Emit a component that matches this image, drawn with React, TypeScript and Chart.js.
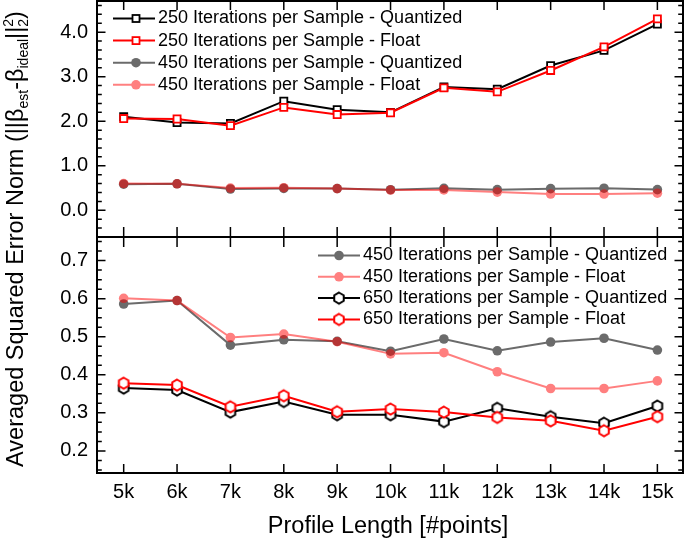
import React, { useEffect, useRef } from 'react';
import { Chart, registerables } from 'chart.js';
Chart.register(...registerables);

// ---------- data ----------
const PROFILE_K = [5, 6, 7, 8, 9, 10, 11, 12, 13, 14, 15];
const TOP_TICKS = [0, 1, 2, 3, 4];
const BOTTOM_TICKS = [0.2, 0.3, 0.4, 0.5, 0.6, 0.7];

const IT250_QUANT = [2.1, 1.97, 1.95, 2.45, 2.26, 2.2, 2.77, 2.72, 3.25, 3.59, 4.18];
const IT250_FLOAT = [2.06, 2.05, 1.9, 2.31, 2.15, 2.19, 2.75, 2.66, 3.14, 3.67, 4.3];
const IT450_QUANT = [0.586, 0.595, 0.478, 0.492, 0.488, 0.462, 0.494, 0.463, 0.486, 0.496, 0.465];
const IT450_FLOAT = [0.601, 0.595, 0.498, 0.507, 0.487, 0.455, 0.458, 0.408, 0.364, 0.364, 0.384];
const IT650_QUANT = [0.365, 0.36, 0.302, 0.33, 0.295, 0.295, 0.277, 0.312, 0.29, 0.273, 0.318];
const IT650_FLOAT = [0.378, 0.373, 0.316, 0.345, 0.303, 0.31, 0.302, 0.288, 0.279, 0.253, 0.29];

const LEGEND_TOP = [
  '250 Iterations per Sample - Quantized',
  '250 Iterations per Sample - Float',
  '450 Iterations per Sample - Quantized',
  '450 Iterations per Sample - Float',
];
const LEGEND_BOTTOM = [
  '450 Iterations per Sample - Quantized',
  '450 Iterations per Sample - Float',
  '650 Iterations per Sample - Quantized',
  '650 Iterations per Sample - Float',
];

const FONT = "'Liberation Sans', Arial, Helvetica, sans-serif";
const BLACK = '#000000';
const RED = '#ff0000';
const GRAY = '#6b6b6b';
const PINK = '#ff8080';

function makeHex(color: string): HTMLCanvasElement {
  const c = document.createElement('canvas');
  c.width = 16;
  c.height = 16;
  const g = c.getContext('2d')!;
  g.beginPath();
  for (let i = 0; i < 6; i++) {
    const a = -Math.PI / 2 + (i * Math.PI) / 3;
    const px = 8 + 5.5 * Math.cos(a);
    const py = 8 + 5.5 * Math.sin(a);
    if (i === 0) g.moveTo(px, py);
    else g.lineTo(px, py);
  }
  g.closePath();
  g.fillStyle = '#ffffff';
  g.fill();
  g.lineWidth = 2;
  g.strokeStyle = color;
  g.stroke();
  return c;
}

const pts = (vals: number[]) => PROFILE_K.map((k, i) => ({ x: k, y: vals[i] }));

export default function App() {
  const ref = useRef<HTMLCanvasElement>(null);

  useEffect(() => {
    const hexBlack = makeHex(BLACK);
    const hexRed = makeHex(RED);

    const groupAlpha = {
      id: 'groupAlpha',
      beforeDatasetDraw(chart: any, args: any) {
        const ds = chart.data.datasets[args.index];
        if (!ds.groupAlpha) return;
        const meta = args.meta;
        const off = document.createElement('canvas');
        off.width = chart.canvas.width;
        off.height = chart.canvas.height;
        const o = off.getContext('2d')!;
        const area = chart.chartArea;
        const ys = meta.yScale;
        o.save();
        o.beginPath();
        o.rect(area.left, ys.top, area.right - area.left, ys.bottom - ys.top);
        o.clip();
        meta.dataset.draw(o, area);
        meta.data.forEach((p: any) => p.draw(o, area));
        o.restore();
        const ctx = chart.ctx;
        ctx.save();
        ctx.globalAlpha = ds.groupAlpha;
        ctx.drawImage(off, 0, 0, chart.width, chart.height);
        ctx.restore();
        return false;
      },
    };

    const decor = {
      id: 'decor',
      afterDraw(chart: any) {
        const ctx = chart.ctx as CanvasRenderingContext2D;
        const xs = chart.scales.x;
        const yT = chart.scales.yTop;
        const yB = chart.scales.yBot;
        const L = chart.chartArea.left;
        const R = chart.chartArea.right;
        const T = yT.top;
        const M = yT.bottom;
        const B = yB.bottom;
        ctx.save();
        ctx.strokeStyle = '#000';
        // ticks
        ctx.lineWidth = 1.5;
        const hTick = (y: number, len: number) => {
          ctx.beginPath();
          ctx.moveTo(L, y);
          ctx.lineTo(L + len, y);
          ctx.moveTo(R, y);
          ctx.lineTo(R - len, y);
          ctx.stroke();
        };
        for (let k = -3; k <= 23; k++) {
          const v = k * 0.2;
          const y = yT.getPixelForValue(v);
          if (y < T + 1 || y > M - 1) continue;
          hTick(y, k % 5 === 0 ? 8.5 : 4.8);
        }
        for (let k = 5; k <= 31; k++) {
          const v = k * 0.025;
          const y = yB.getPixelForValue(v);
          if (y < M + 1 || y > B - 1) continue;
          hTick(y, k % 4 === 0 ? 8.5 : 4.8);
        }
        PROFILE_K.forEach((k) => {
          const x = xs.getPixelForValue(k);
          ctx.beginPath();
          ctx.moveTo(x, B);
          ctx.lineTo(x, B - 9);
          ctx.moveTo(x, T);
          ctx.lineTo(x, T + 9);
          ctx.moveTo(x, M - 10);
          ctx.lineTo(x, M + 10);
          ctx.stroke();
        });
        // frame
        ctx.lineWidth = 2;
        ctx.strokeRect(L, T, R - L, B - T);
        ctx.beginPath();
        ctx.moveTo(L, M);
        ctx.lineTo(R, M);
        ctx.stroke();

        // legends
        const drawMarker = (kind: string, color: string, x: number, y: number) => {
          if (kind === 'rect') {
            ctx.fillStyle = '#fff';
            ctx.fillRect(x - 3.5, y - 3.5, 7, 7);
            ctx.lineWidth = 1.8;
            ctx.strokeStyle = color;
            ctx.strokeRect(x - 3.5, y - 3.5, 7, 7);
          } else if (kind === 'circle') {
            ctx.fillStyle = color;
            ctx.beginPath();
            ctx.arc(x, y, 4.8, 0, Math.PI * 2);
            ctx.fill();
          } else {
            const img = color === RED ? hexRed : hexBlack;
            ctx.drawImage(img, x - 8, y - 8);
          }
        };
        const row = (x0: number, x1: number, mx: number, tx: number, y: number, color: string, kind: string, label: string) => {
          ctx.strokeStyle = color;
          ctx.lineWidth = 2;
          ctx.beginPath();
          ctx.moveTo(x0, y);
          ctx.lineTo(x1, y);
          ctx.stroke();
          drawMarker(kind, color, mx, y);
          ctx.fillStyle = '#000';
          ctx.font = `18px ${FONT}`;
          ctx.textBaseline = 'middle';
          ctx.textAlign = 'left';
          ctx.fillText(label, tx, y);
        };
        const topStyles: [string, string][] = [[BLACK, 'rect'], [RED, 'rect'], [GRAY, 'circle'], [PINK, 'circle']];
        LEGEND_TOP.forEach((lab, i) => {
          row(113, 155, 136, 158, 18.5 + i * 22.1, topStyles[i][0], topStyles[i][1], lab);
        });
        const botStyles: [string, string][] = [[GRAY, 'circle'], [PINK, 'circle'], [BLACK, 'hex'], [RED, 'hex']];
        LEGEND_BOTTOM.forEach((lab, i) => {
          row(318, 360, 339, 363, 255.5 + i * 21.3, botStyles[i][0], botStyles[i][1], lab);
        });

        // axis titles
        ctx.fillStyle = '#000';
        ctx.textAlign = 'center';
        ctx.textBaseline = 'middle';
        ctx.font = `23.5px ${FONT}`;
        ctx.fillText('Profile Length [#points]', (L + R) / 2 - 2, 527);

        const segs: { t: string; s: string }[] = [
          { t: 'Averaged Squared Error Norm (||β', s: 'n' },
          { t: 'est', s: 'sub' },
          { t: '-β', s: 'n' },
          { t: 'ideal', s: 'sub' },
          { t: '||', s: 'n' },
          { t: '2', s: 'subsup' },
          { t: ')', s: 'n' },
        ];
        const big = `23.5px ${FONT}`;
        const small = `14px ${FONT}`;
        let total = 0;
        segs.forEach((sg) => {
          ctx.font = sg.s === 'n' ? big : small;
          total += ctx.measureText(sg.t).width;
        });
        ctx.save();
        ctx.translate(23, 239);
        ctx.rotate(-Math.PI / 2);
        ctx.textAlign = 'left';
        ctx.textBaseline = 'alphabetic';
        let u = -total / 2;
        segs.forEach((sg) => {
          if (sg.s === 'n') {
            ctx.font = big;
            ctx.fillText(sg.t, u, 0);
          } else if (sg.s === 'sub') {
            ctx.font = small;
            ctx.fillText(sg.t, u, 5);
          } else {
            ctx.font = small;
            ctx.fillText(sg.t, u, 5);
            ctx.fillText(sg.t, u, -10);
          }
          u += ctx.measureText(sg.t).width;
        });
        ctx.restore();
        ctx.restore();
      },
    };

    const lineDs = (label: string, vals: number[], axis: string, color: string, kind: string, order: number, extra: any = {}) => {
      const base: any = {
        label,
        data: pts(vals),
        yAxisID: axis,
        borderColor: color,
        borderWidth: 2,
        order,
        pointBorderColor: color,
        tension: 0,
      };
      if (kind === 'rect') {
        Object.assign(base, { pointStyle: 'rect', pointRadius: 5, pointBorderWidth: 1.8, pointBackgroundColor: '#fff' });
      } else if (kind === 'circle') {
        Object.assign(base, { pointStyle: 'circle', pointRadius: 4.8, pointBorderWidth: 0, pointBackgroundColor: color });
      } else {
        Object.assign(base, { pointStyle: color === RED ? hexRed : hexBlack, pointRadius: 6 });
      }
      return Object.assign(base, extra);
    };

    const yCommon = (min: number, max: number, ticks: number[], weight: number) => ({
      type: 'linear',
      position: 'left',
      stack: 'panels',
      stackWeight: 1,
      weight,
      min,
      max,
      grid: { display: false, drawTicks: false, tickLength: 0 },
      border: { display: false },
      afterBuildTicks: (s: any) => {
        s.ticks = ticks.map((v) => ({ value: v }));
      },
      ticks: {
        callback: (v: any) => Number(v).toFixed(1),
        font: { family: FONT, size: 20 },
        color: '#000',
        padding: 9,
      },
      afterFit: (s: any) => {
        s.width = 97;
        s.paddingTop = 0;
        s.paddingBottom = 0;
      },
    });

    const chart = new Chart(ref.current!, {
      type: 'line',
      data: {
        datasets: [
          lineDs('250 F', IT250_FLOAT, 'yTop', RED, 'rect', 1),
          lineDs('250 Q', IT250_QUANT, 'yTop', BLACK, 'rect', 2),
          lineDs('450 F top', IT450_FLOAT, 'yTop', RED, 'circle', 3, { groupAlpha: 0.5 }),
          lineDs('450 Q top', IT450_QUANT, 'yTop', GRAY, 'circle', 4),
          lineDs('650 F', IT650_FLOAT, 'yBot', RED, 'hex', 1),
          lineDs('650 Q', IT650_QUANT, 'yBot', BLACK, 'hex', 2),
          lineDs('450 F bot', IT450_FLOAT, 'yBot', RED, 'circle', 3, { groupAlpha: 0.5 }),
          lineDs('450 Q bot', IT450_QUANT, 'yBot', GRAY, 'circle', 4),
        ] as any,
      },
      options: {
        animation: false,
        responsive: true,
        maintainAspectRatio: false,
        layout: { autoPadding: false, padding: { top: 1, right: 2, left: 0, bottom: 0 } },
        plugins: {
          legend: { display: false },
          tooltip: { enabled: false },
          title: { display: false },
        },
        scales: {
          x: {
            type: 'linear',
            min: 4.5,
            max: 15.48,
            grid: { display: false, drawTicks: false, tickLength: 0 },
            border: { display: false },
            afterBuildTicks: (s: any) => {
              s.ticks = PROFILE_K.map((v) => ({ value: v }));
            },
            ticks: {
              callback: (v: any) => `${v}k`,
              font: { family: FONT, size: 20 },
              color: '#000',
              padding: 7,
              maxRotation: 0,
              autoSkip: false,
            },
            afterFit: (s: any) => {
              s.height = 70;
              s.paddingLeft = 0;
              s.paddingRight = 0;
            },
          },
          yBot: yCommon(0.142, 0.762, BOTTOM_TICKS, 1),
          yTop: yCommon(-0.6, 4.7, TOP_TICKS, 2),
        } as any,
      },
      plugins: [groupAlpha, decor],
    });
    return () => chart.destroy();
  }, []);

  return (
    <div style={{ position: 'absolute', left: 0, top: 0, width: 685, height: 543, background: '#fff' }}>
      <canvas ref={ref} />
    </div>
  );
}
